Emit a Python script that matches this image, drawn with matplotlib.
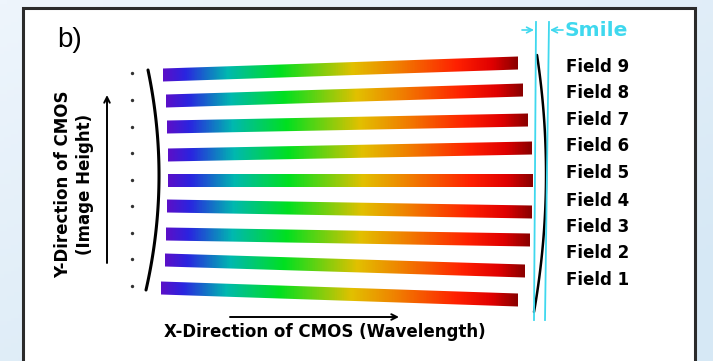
import numpy as np
import matplotlib
matplotlib.use("Agg")
import matplotlib.pyplot as plt
from matplotlib.colors import LinearSegmentedColormap
from matplotlib.patches import Rectangle, Polygon

# field stripes (pixel coords, y down)
fields = ['Field 1', 'Field 2', 'Field 3', 'Field 4', 'Field 5',
          'Field 6', 'Field 7', 'Field 8', 'Field 9']
left_x = [161, 165, 166, 167, 168, 168, 167, 166, 163]
left_y = [288, 260, 234, 206, 180, 155, 127, 101, 75]
right_x = [518, 525, 530, 532, 533, 532, 528, 523, 518]
right_y = [300, 271, 240, 212, 180, 148, 120, 90, 63]
label_y = [280, 253, 227, 201, 173, 146, 120, 93, 67]
dot_y = [286, 259, 233, 206, 180, 153, 127, 100, 73]

# the two curved image edges (top, middle, bottom)
left_arc_x = [148, 159, 146]
left_arc_y = [70, 180, 290]
right_arc_x = [537, 546, 534]
right_arc_y = [55, 180, 312]

# spectrum colours along the stripe
stops = [0.0, 0.06, 0.18, 0.33, 0.535, 0.66, 0.83, 0.93, 1.0]
stop_colors = ['#5a10c8', '#2a24e0', '#00b8b0', '#00e020', '#e2c000',
               '#f08000', '#ff2000', '#e00000', '#8c0000']
spec = LinearSegmentedColormap.from_list('spec', list(zip(stops, stop_colors)))

fig = plt.figure(figsize=(7.13, 3.61), dpi=100)
ax = fig.add_axes([0, 0, 1, 1])
ax.set_xlim(0, 713)
ax.set_ylim(361, 0)
ax.axis('off')

# light blue page background
gx, gy = np.meshgrid(np.linspace(0, 1, 200), np.linspace(0, 1, 100))
bg = np.clip(0.55 * gx + 0.6 * gy, 0, 1)
bgmap = LinearSegmentedColormap.from_list('bg', ['#eef5fc', '#d6e8f5'])
ax.imshow(bg, cmap=bgmap, extent=[0, 713, 361, 0], aspect='auto', zorder=0)

ax.add_patch(Rectangle((23, 7.5), 672, 360, facecolor='white',
                       edgecolor='#2b2b2b', lw=2.2, zorder=1))

# stripes: gradient image clipped to each slanted band
half = 6.5
grad = np.linspace(0, 1, 400).reshape(1, -1)
for i in range(len(fields)):
    lx, ly, rx, ry = left_x[i], left_y[i], right_x[i], right_y[i]
    quad = Polygon([(lx, ly - half), (rx, ry - half), (rx, ry + half),
                    (lx, ly + half)], closed=True, facecolor='none',
                   edgecolor='none', transform=ax.transData)
    ax.add_patch(quad)
    top = min(ly, ry) - half - 1
    bot = max(ly, ry) + half + 1
    im = ax.imshow(grad, cmap=spec, vmin=0, vmax=1, aspect='auto',
                   extent=[lx, rx, bot, top], interpolation='bilinear',
                   zorder=2)
    im.set_clip_path(quad)
    ax.text(566, label_y[i], fields[i], fontsize=12, fontweight='bold',
            va='center', ha='left', zorder=3)

ax.set_xlim(0, 713)
ax.set_ylim(361, 0)

ax.scatter([132] * len(dot_y), dot_y, s=2, color='#333333', zorder=3)


def arc(xp, yp):
    c = np.polyfit(yp, xp, 2)
    yy = np.linspace(yp[0], yp[-1], 100)
    return np.polyval(c, yy), yy


ax.plot(*arc(left_arc_x, left_arc_y), color='black', lw=2.2, zorder=3,
        solid_capstyle='round')
ax.plot(*arc(right_arc_x, right_arc_y), color='black', lw=1.8, zorder=3,
        solid_capstyle='round')

# smile markers
cyan = '#3fd8ee'
ax.plot([536, 534], [22, 320], color=cyan, lw=1.3, zorder=4)
ax.plot([549, 545], [22, 320], color=cyan, lw=1.3, zorder=4)
ax.annotate('', xy=(534, 30), xytext=(522, 30),
            arrowprops=dict(arrowstyle='->', color=cyan, lw=1.2,
                            shrinkA=0, shrinkB=0), zorder=4)
ax.annotate('', xy=(550, 30), xytext=(563, 30),
            arrowprops=dict(arrowstyle='->', color=cyan, lw=1.2,
                            shrinkA=0, shrinkB=0), zorder=4)
ax.text(564, 31, 'Smile', color=cyan, fontsize=14.5, fontweight='bold',
        va='center', ha='left', zorder=4)

# axis arrows and labels
ax.annotate('', xy=(107, 95), xytext=(107, 263),
            arrowprops=dict(arrowstyle='->', color='black', lw=1.4,
                            shrinkA=0, shrinkB=0), zorder=3)
ax.annotate('', xy=(399, 317), xytext=(230, 317),
            arrowprops=dict(arrowstyle='->', color='black', lw=1.4,
                            shrinkA=0, shrinkB=0), zorder=3)
ax.text(63, 184, 'Y-Direction of CMOS', rotation=90, fontsize=12,
        fontweight='bold', ha='center', va='center', zorder=3)
ax.text(85, 184, '(Image Height)', rotation=90, fontsize=12,
        fontweight='bold', ha='center', va='center', zorder=3)
ax.text(325, 332, 'X-Direction of CMOS (Wavelength)', fontsize=12,
        fontweight='bold', ha='center', va='center', zorder=3)

ax.text(57, 40, 'b)', fontsize=20, family='Liberation Sans',
        ha='left', va='center', zorder=3)

fig.savefig('out.png', dpi=100)
